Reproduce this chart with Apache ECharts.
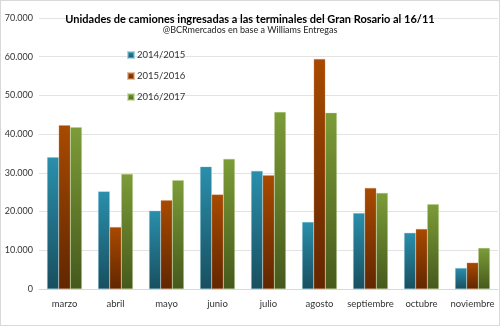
<!DOCTYPE html>
<html>
<head>
<meta charset="utf-8">
<script src="https://cdn.jsdelivr.net/npm/echarts@6/dist/echarts.min.js"></script>
<style>
  html, body { margin: 0; padding: 0; background: #fff; }
  #chart { width: 498px; height: 324px; border: 1px solid #d9d9d9; }
</style>
</head>
<body>
<div id="chart"></div>
<script>
// Camiones ingresados por mes y campaña
const months = ['marzo', 'abril', 'mayo', 'junio', 'julio', 'agosto', 'septiembre', 'octubre', 'noviembre'];
const c2014 = [34000, 25200, 20200, 31600, 30500, 17300, 19600, 14500, 5400];
const c2015 = [42300, 16000, 22900, 24400, 29400, 59400, 26100, 15500, 6800];
const c2016 = [41800, 29700, 28100, 33600, 45700, 45500, 24800, 21900, 10600];
const yTicks = [0, 10000, 20000, 30000, 40000, 50000, 60000, 70000];

const font = 'Lato, "Open Sans", sans-serif';

function grad(top, bottom) {
  return new echarts.graphic.LinearGradient(0, 0, 0, 1, [
    { offset: 0, color: top },
    { offset: 1, color: bottom }
  ]);
}

const fmt = v => v === 0 ? '0' : String(v).replace(/\B(?=(\d{3})+(?!\d))/g, '.');

const chart = echarts.init(document.getElementById('chart'));
chart.setOption({
  backgroundColor: '#fff',
  animation: false,
  title: [{
    text: 'Unidades de camiones ingresadas a las terminales del Gran Rosario al 16/11',
    left: 'center', top: 8, padding: [5, 0, 5, 28],
    textStyle: { fontFamily: font, fontSize: 11, fontWeight: 'bold', color: '#000' }
  }, {
    text: '@BCRmercados en base a Williams Entregas',
    left: 'center', top: 20, padding: [5, 0, 5, 28],
    textStyle: { fontFamily: font, fontSize: 9, fontWeight: 'normal', color: '#222' }
  }],
  legend: {
    orient: 'vertical',
    left: 121, top: 44,
    itemWidth: 6, itemHeight: 6, itemGap: 11,
    icon: 'rect',
    textStyle: { fontFamily: font, fontSize: 9.5, color: '#333', padding: [0, 0, 0, -2] },
    data: ['2014/2015', '2015/2016', '2016/2017']
  },
  grid: { left: 38, right: 1, top: 17, bottom: 36 },
  xAxis: {
    type: 'category',
    data: months,
    axisLine: { lineStyle: { color: '#d9d9d9' } },
    axisTick: { show: false },
    axisLabel: { fontFamily: font, fontSize: 9.5, color: '#333', margin: 10, interval: 0 }
  },
  yAxis: {
    type: 'value',
    min: yTicks[0], max: yTicks[yTicks.length - 1], interval: 10000,
    axisLine: { show: false },
    axisTick: { show: false },
    splitLine: { lineStyle: { color: '#e3e3e3' } },
    axisLabel: { fontFamily: font, fontSize: 9, color: '#333', margin: 6, formatter: fmt }
  },
  series: [{
    name: '2014/2015', type: 'bar', data: c2014,
    barGap: '0%', barCategoryGap: '32%',
    itemStyle: { color: grad('#2a8fac', '#184f60'), borderColor: 'rgba(120,190,210,0.6)', borderWidth: 0.5 }
  }, {
    name: '2015/2016', type: 'bar', data: c2015,
    itemStyle: { color: grad('#a84a00', '#622600'), borderColor: 'rgba(220,150,100,0.6)', borderWidth: 0.5 }
  }, {
    name: '2016/2017', type: 'bar', data: c2016,
    itemStyle: { color: grad('#7c9c38', '#46591c'), borderColor: 'rgba(180,210,130,0.6)', borderWidth: 0.5 }
  }]
});
</script>
</body>
</html>
